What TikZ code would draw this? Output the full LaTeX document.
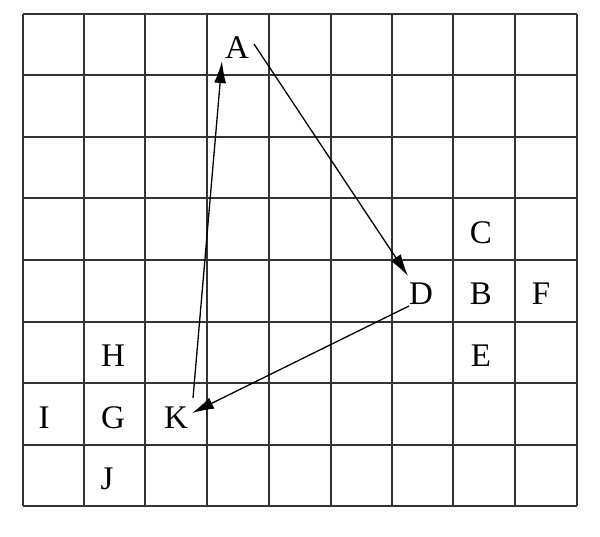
\documentclass[tikz,border=0pt]{standalone}
\usepackage{fontspec}
\setmainfont{Liberation Serif}
\usetikzlibrary{arrows.meta}
\begin{document}
\begin{tikzpicture}[x=1pt,y=-1pt,
  gridline/.style={line width=1.8pt,black!80},
  lab/.style={font=\fontsize{33}{36}\selectfont,inner sep=0pt},
  arr/.style={line width=1.3pt,-{Latex[length=22pt,width=12pt]}}]
\useasboundingbox[fill=white] (0,0) rectangle (600,536);
% grid
\foreach \x in {23,84,145,207,269,331,392,453,515,577} \draw[gridline] (\x,14) -- (\x,506);
\foreach \y in {14,75,137,198,260,322,383,445,506} \draw[gridline] (23,\y) -- (577,\y);
% labels
\node[lab] (A) at (237,48) {A};
\node[lab] (C) at (481,233) {C};
\node[lab] (B) at (481,294) {B};
\node[lab] (D) at (421,294) {D};
\node[lab] (F) at (541,294) {F};
\node[lab] (E) at (481,356) {E};
\node[lab] (H) at (113,356) {H};
\node[lab] (G) at (113,418) {G};
\node[lab] (I) at (44,418) {I};
\node[lab] (K) at (176,418) {K};
\node[lab] (J) at (107,479) {J};
% connector ends
\coordinate (Aout) at (254,44);
\coordinate (Ain) at (222,61);
\coordinate (Din) at (408,276);
\coordinate (Dout) at (409,306);
\coordinate (Kin) at (192,413);
\coordinate (Kout) at (193,398);
\draw[arr] (Aout) -- (Din);
\draw[arr] (Dout) -- (Kin);
\draw[arr] (Kout) -- (Ain);
\end{tikzpicture}
\end{document}
